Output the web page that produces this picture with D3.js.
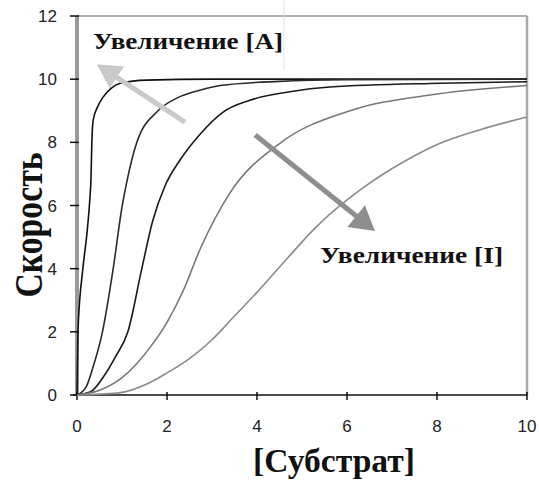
<!DOCTYPE html>
<html lang="ru">
<head>
<meta charset="UTF-8">
<title>Скорость vs [Субстрат]</title>
<script src="https://cdnjs.cloudflare.com/ajax/libs/d3/7.8.5/d3.min.js"></script>
<style>
    body { margin: 0; padding: 0; background: #ffffff; }
    svg { display: block; }
    .tick-label { font-family: "Liberation Sans", Arial, sans-serif; font-size: 17px; fill: #222; }
    .title { font-family: "Liberation Serif", "Times New Roman", serif; font-weight: bold; fill: #111; }
</style>
</head>
<body>
<div id="chart"></div>
<script>
// axis ticks
const xTicks = [0, 2, 4, 6, 8, 10];
const yTicks = [0, 2, 4, 6, 8, 10, 12];

// curves: [substrate, rate]
const curve1 = [[0,0],[0.02,2],[0.13,4],[0.22,5.1],[0.29,6.3],[0.31,6.8],[0.33,8.0],[0.36,8.7],[0.45,9.1],[0.58,9.43],[0.75,9.7],[0.96,9.87],[1.55,9.97],[3,10],[10,10]];
const curve2 = [[0,0],[0.2,0.25],[0.36,0.9],[0.56,1.96],[0.8,3.96],[1.0,5.95],[1.1,6.7],[1.33,8.0],[1.8,9.0],[2.22,9.4],[2.73,9.65],[3.18,9.8],[4.5,9.93],[6,9.98],[10,10]];
const curve3 = [[0,0],[0.3,0.1],[0.6,0.6],[0.85,1.2],[1.13,2.0],[1.44,4.0],[1.68,5.5],[1.95,6.6],[2.29,7.44],[2.73,8.25],[3.24,8.95],[3.84,9.33],[4.73,9.6],[5.62,9.75],[8.07,9.87],[10,9.92]];
const curve4 = [[0,0],[0.5,0.15],[1.0,0.55],[1.33,1.0],[1.62,1.5],[2.0,2.3],[2.36,3.3],[2.73,4.6],[3.4,6.4],[4.51,7.97],[6.07,9.0],[7.84,9.5],[10,9.8]];
const curve5 = [[0,0],[0.9,0.06],[1.6,0.38],[2.0,0.7],[2.5,1.15],[3.0,1.75],[3.5,2.5],[4.0,3.25],[4.7,4.37],[5.3,5.3],[6.3,6.5],[7.33,7.44],[8.07,7.97],[8.96,8.4],[10,8.8]];
const curves = [curve1, curve2, curve3, curve4, curve5];
const curveColors = ["#111", "#2a2a2a", "#1a1a1a", "#777", "#8a8a8a"];

// annotation arrows (in data units) and labels
const arrowA = { from: [2.4, 8.64], to: [0.44, 10.47] };
const arrowI = { from: [3.96, 8.23], to: [6.62, 5.19] };
const labelA = "Увеличение [A]";
const labelI = "Увеличение [I]";
const xTitle = "[Субстрат]";
const yTitle = "Скорость";

const width = 539, height = 481;
const svg = d3.select("#chart").append("svg")
    .attr("width", width)
    .attr("height", height);

const x = d3.scaleLinear().domain([0, 10]).range([77, 527]);
const y = d3.scaleLinear().domain([0, 12]).range([395, 16]);

// frame: top and right in gray
svg.append("line")
    .attr("x1", x(0)).attr("x2", x(10)).attr("y1", y(12)).attr("y2", y(12))
    .attr("stroke", "#999").attr("stroke-width", 1.5);
svg.append("line")
    .attr("x1", x(10)).attr("x2", x(10)).attr("y1", y(12)).attr("y2", y(0))
    .attr("stroke", "#aaa").attr("stroke-width", 2.5);

// faint editing artefact line near the top
svg.append("line")
    .attr("x1", 284).attr("x2", 284).attr("y1", 0).attr("y2", 70)
    .attr("stroke", "#e4e4e4").attr("stroke-width", 1);

// y axis
const yAxis = svg.append("g");
yAxis.append("line")
    .attr("x1", x(0)).attr("x2", x(0)).attr("y1", y(12)).attr("y2", y(0))
    .attr("stroke", "#999").attr("stroke-width", 4);
yAxis.selectAll(".ytick").data(yTicks).enter().append("line")
    .attr("x1", x(0) - 7).attr("x2", x(0) + 2)
    .attr("y1", d => y(d)).attr("y2", d => y(d))
    .attr("stroke", "#111").attr("stroke-width", 1.5);
yAxis.selectAll(".ylab").data(yTicks).enter().append("text")
    .attr("class", "tick-label")
    .attr("x", 57)
    .attr("y", d => y(d) + 6)
    .attr("text-anchor", "end")
    .text(d => d);

// x axis
const xAxis = svg.append("g");
xAxis.append("line")
    .attr("x1", x(0) - 4).attr("x2", x(10)).attr("y1", y(0)).attr("y2", y(0))
    .attr("stroke", "#111").attr("stroke-width", 1.5);
xAxis.selectAll(".xtick").data(xTicks).enter().append("line")
    .attr("x1", d => x(d)).attr("x2", d => x(d))
    .attr("y1", y(0) - 3).attr("y2", y(0) + 5)
    .attr("stroke", "#111").attr("stroke-width", 1.5);
xAxis.selectAll(".xlab").data(xTicks).enter().append("text")
    .attr("class", "tick-label")
    .attr("x", d => x(d))
    .attr("y", 432)
    .attr("text-anchor", "middle")
    .text(d => d);

// curves
const line = d3.line()
    .x(d => x(d[0]))
    .y(d => y(d[1]))
    .curve(d3.curveMonotoneX);

svg.append("g").selectAll("path").data(curves).enter().append("path")
    .attr("d", line)
    .attr("fill", "none")
    .attr("stroke", (d, i) => curveColors[i])
    .attr("stroke-width", 1.6);

// arrows
function drawArrow(a, color, headLen, headHalf) {
    const x0 = x(a.from[0]), y0 = y(a.from[1]);
    const x1 = x(a.to[0]), y1 = y(a.to[1]);
    const dx = x1 - x0, dy = y1 - y0;
    const len = Math.sqrt(dx * dx + dy * dy);
    const ux = dx / len, uy = dy / len;
    const bx = x1 - ux * headLen, by = y1 - uy * headLen;
    svg.append("line")
        .attr("x1", x0).attr("y1", y0).attr("x2", bx + ux * 2).attr("y2", by + uy * 2)
        .attr("stroke", color).attr("stroke-width", 5);
    svg.append("polygon")
        .attr("points", [
            [x1, y1],
            [bx - uy * headHalf, by + ux * headHalf],
            [bx + uy * headHalf, by - ux * headHalf]
        ].map(p => p.join(",")).join(" "))
        .attr("fill", color);
}
drawArrow(arrowA, "#c9c9c9", 24, 13);
drawArrow(arrowI, "#8e8e8e", 24, 14);

// labels
svg.append("text").attr("class", "title")
    .attr("x", 93).attr("y", 49)
    .attr("font-size", 24)
    .attr("textLength", 190).attr("lengthAdjust", "spacingAndGlyphs")
    .text(labelA);
svg.append("text").attr("class", "title")
    .attr("x", 320).attr("y", 263)
    .attr("font-size", 24)
    .attr("textLength", 183).attr("lengthAdjust", "spacingAndGlyphs")
    .text(labelI);

svg.append("text").attr("class", "title")
    .attr("x", 334).attr("y", 472)
    .attr("text-anchor", "middle")
    .attr("font-size", 34)
    .attr("textLength", 162).attr("lengthAdjust", "spacingAndGlyphs")
    .text(xTitle);

svg.append("text").attr("class", "title")
    .attr("transform", "translate(42,225) rotate(-90)")
    .attr("text-anchor", "middle")
    .attr("font-size", 40)
    .attr("textLength", 145).attr("lengthAdjust", "spacingAndGlyphs")
    .text(yTitle);
</script>
</body>
</html>
